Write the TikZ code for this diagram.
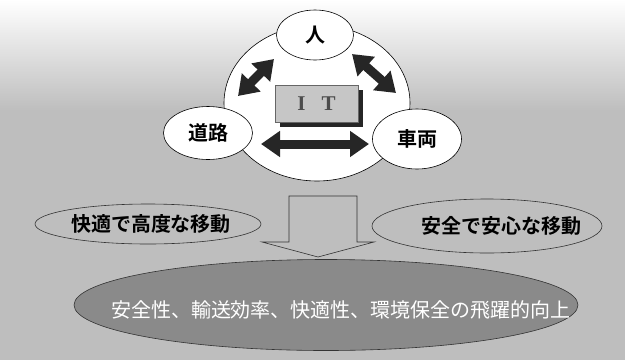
\documentclass[tikz,border=0pt]{standalone}
\usepackage{fontspec}
\setmainfont{Liberation Serif}
\newfontfamily\jp{Noto Sans CJK JP}
\newfontfamily\jpb{Noto Sans CJK JP Bold}
\usetikzlibrary{arrows.meta,shapes.geometric}
\definecolor{bgc}{HTML}{BEBEBE}
\definecolor{darkell}{HTML}{8A8A8A}
\definecolor{itfill}{HTML}{C6C6C6}
\tikzset{
  wellip/.style={ellipse, draw=black, line width=0.6pt, fill=white, inner sep=0pt, font=\jpb\fontsize{20}{20}\selectfont},
  oellip/.style={ellipse, draw=black!80, line width=0.6pt, inner sep=0pt},
  olabel/.style={inner sep=0pt, font=\jpb\fontsize{20}{20}\selectfont},
  blockarrow/.style={line width=9pt, draw=black!85, {Triangle[width=25pt,length=19pt]}-{Triangle[width=25pt,length=19pt]}, shorten <=0pt, shorten >=0pt}
}
\begin{document}
\begin{tikzpicture}[x=1pt,y=-1pt]
\useasboundingbox (0,0) rectangle (625,360);
% background
\shade[top color=white, bottom color=bgc] (0,0) rectangle (625,110);
\fill[bgc] (0,110) rectangle (625,360);
% big circle
\node[ellipse, draw=black, line width=0.6pt, fill=white, minimum width=186pt, minimum height=156pt] (ring) at (317,103) {};
% three nodes
\node[wellip, minimum width=77pt, minimum height=50pt] (hito) at (315,35) {人};
\node[wellip, minimum width=89pt, minimum height=53pt] (doro) at (208,133) {道路};
\node[wellip, minimum width=89pt, minimum height=60pt] (shar) at (417,139) {車両};
% arrow end points
\coordinate (aL1) at (238,96);
\coordinate (aL2) at (274,59);
\coordinate (aR1) at (352,54);
\coordinate (aR2) at (396,93);
\coordinate (aH1) at (261,144);
\coordinate (aH2) at (369,144);
\draw[blockarrow] (aL1) -- (aL2);
\draw[blockarrow] (aR1) -- (aR2);
\draw[blockarrow] (aH1) -- (aH2);
% IT box
\fill[black!85] (280,90) rectangle (363,127);
\node[draw=black!60, line width=0.5pt, fill=itfill, minimum width=83pt, minimum height=37pt, inner sep=0pt, text=black!70, font=\bfseries\fontsize{21}{21}\selectfont] (it) at (316.5,103.5) {I\hspace{16pt}T};
% down arrow
\draw[black!80, line width=0.6pt] (289,196) -- (357,196) -- (357,242) -- (374,242) -- (318,257) -- (262,242) -- (289,242) -- cycle;
% side ellipses
\node[oellip, minimum width=226pt, minimum height=40pt] (left) at (148,224) {};
\node[olabel] (lefttext) at (151,224) {快適で高度な移動};
\node[oellip, minimum width=230pt, minimum height=54pt] (right) at (487,226) {};
\node[olabel] (righttext) at (501,226) {安全で安心な移動};
% bottom ellipse
\node[ellipse, draw=black!80, line width=0.6pt, fill=darkell, minimum width=504pt, minimum height=91pt, inner sep=0pt] (goal) at (326,305) {};
\node[inner sep=0pt, text=white, font=\jp\fontsize{20}{20}\selectfont] (goaltext) at (341,310) {安全性、輸送効率、快適性、環境保全の飛躍的向上};
\end{tikzpicture}
\end{document}
